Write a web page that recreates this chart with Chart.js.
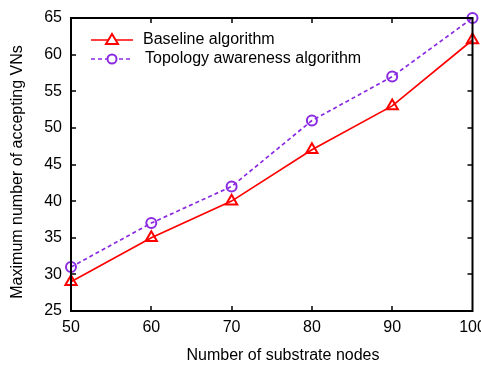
<!DOCTYPE html>
<html><head><meta charset="utf-8">
<script src="https://cdn.jsdelivr.net/npm/chart.js@4/dist/chart.umd.min.js"></script>
<style>html,body{margin:0;padding:0;background:#fff}#wrap{width:481px;height:367px}</style>
</head><body><div id="wrap"><canvas id="c" width="481" height="367"></canvas></div>
<script>
const nodes = [50, 60, 70, 80, 90, 100];
const baseline = [29, 35, 40, 47, 53, 62];
const topology = [31, 37, 42, 51, 57, 65];
const seriesNames = ['Baseline algorithm', 'Topology awareness algorithm'];
const xTitle = 'Number of substrate nodes';
const yTitle = 'Maximum number of accepting VNs';
const RED = '#ff0000', PURPLE = '#8a2be2';
const FONT = 'Liberation Sans, Arial, sans-serif';

const framePlugin = {
  id: 'frame',
  afterDraw(chart) {
    const ctx = chart.ctx, a = chart.chartArea;
    const xs = chart.scales.x, ys = chart.scales.y;
    ctx.save();
    ctx.strokeStyle = '#000'; ctx.lineWidth = 2;
    ctx.strokeRect(a.left, a.top, a.right - a.left, a.bottom - a.top);
    ctx.lineWidth = 1.5;
    const L = 5;
    ctx.beginPath();
    xs.ticks.forEach(t => {
      const px = Math.round(xs.getPixelForValue(t.value));
      if (px <= a.left + 1 || px >= a.right - 1) return;
      ctx.moveTo(px, a.bottom); ctx.lineTo(px, a.bottom - L);
      ctx.moveTo(px, a.top); ctx.lineTo(px, a.top + L);
    });
    ys.ticks.forEach(t => {
      const py = Math.round(ys.getPixelForValue(t.value));
      if (py <= a.top + 1 || py >= a.bottom - 1) return;
      ctx.moveTo(a.left, py); ctx.lineTo(a.left + L, py);
      ctx.moveTo(a.right, py); ctx.lineTo(a.right - L, py);
    });
    ctx.stroke();
    // titles
    ctx.fillStyle = '#000';
    ctx.font = '16px ' + FONT;
    ctx.textAlign = 'center'; ctx.textBaseline = 'middle';
    ctx.fillText(xTitle, 283, 356);
    ctx.save();
    ctx.translate(18, 172);
    ctx.rotate(-Math.PI / 2);
    ctx.fillText(yTitle, 0, 0);
    ctx.restore();
    // legend
    const items = [
      {name: seriesNames[0], color: RED, dash: [], style: 'triangle', y: 40, tx: 143},
      {name: seriesNames[1], color: PURPLE, dash: [4, 3], style: 'circle', y: 59, tx: 145}
    ];
    items.forEach(it => {
      ctx.strokeStyle = it.color; ctx.lineWidth = 1.7;
      ctx.setLineDash(it.dash);
      ctx.beginPath(); ctx.moveTo(91, it.y); ctx.lineTo(133, it.y); ctx.stroke();
      ctx.setLineDash([]);
      ctx.lineWidth = 2;
      ctx.beginPath();
      if (it.style === 'circle') {
        ctx.arc(112, it.y, 4.5, 0, Math.PI * 2);
      } else {
        ctx.moveTo(112, it.y - 6); ctx.lineTo(118, it.y + 4); ctx.lineTo(106, it.y + 4); ctx.closePath();
      }
      ctx.fillStyle = '#fff'; ctx.fill(); ctx.stroke();
      ctx.fillStyle = '#000'; ctx.textAlign = 'left';
      ctx.font = '16px ' + FONT;
      ctx.fillText(it.name, it.tx, it.y);
    });
    ctx.restore();
  }
};

new Chart(document.getElementById('c'), {
  type: 'line',
  data: {
    datasets: [
      {label: seriesNames[0], data: nodes.map((n, i) => ({x: n, y: baseline[i]})),
       borderColor: RED, backgroundColor: '#fff', borderWidth: 1.7,
       pointStyle: 'triangle', pointRadius: 6.5, pointBorderWidth: 2, pointBorderColor: RED, pointBackgroundColor: 'rgba(255,255,255,0)', tension: 0},
      {label: seriesNames[1], data: nodes.map((n, i) => ({x: n, y: topology[i]})),
       borderColor: PURPLE, backgroundColor: '#fff', borderWidth: 1.7, borderDash: [4, 3],
       pointStyle: 'circle', pointRadius: 5, pointBorderWidth: 2, pointBorderColor: PURPLE, pointBackgroundColor: 'rgba(255,255,255,0)', tension: 0}
    ]
  },
  options: {
    responsive: false, animation: false, devicePixelRatio: 1,
    clip: false,
    layout: {padding: {left: 0, right: 8, top: 18, bottom: 0}},
    plugins: {legend: {display: false}, tooltip: {enabled: false}},
    scales: {
      x: {type: 'linear', min: 50, max: 100,
          ticks: {stepSize: 10, color: '#000', font: {family: FONT, size: 16}, padding: 7, maxRotation: 0},
          grid: {display: false, drawTicks: false}, border: {display: false},
          afterFit(s) { s.height = 56; s.paddingLeft = 0; s.paddingRight = 0; }},
      y: {min: 25, max: 65,
          ticks: {stepSize: 5, color: '#000', font: {family: FONT, size: 16}, padding: 9},
          grid: {display: false, drawTicks: false}, border: {display: false},
          afterFit(s) { s.width = 71; s.paddingTop = 0; s.paddingBottom = 0; }}
    }
  },
  plugins: [framePlugin]
});
</script></body></html>
